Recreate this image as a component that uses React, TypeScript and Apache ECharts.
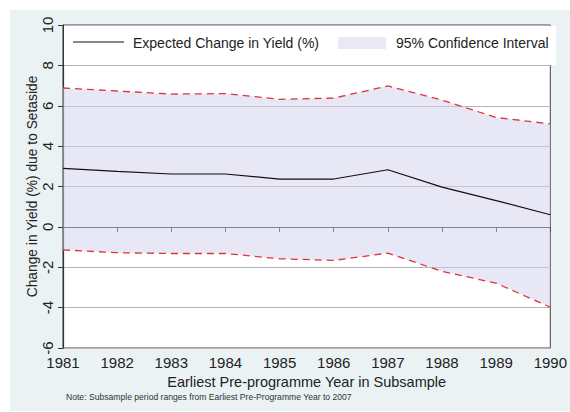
import React, { useEffect, useRef } from "react";
import * as echarts from "echarts";

const years = ["1981", "1982", "1983", "1984", "1985", "1986", "1987", "1988", "1989", "1990"];
const expected = [2.9, 2.75, 2.62, 2.62, 2.37, 2.37, 2.83, 1.97, 1.3, 0.6];
const upper = [6.88, 6.73, 6.58, 6.6, 6.32, 6.38, 6.98, 6.28, 5.42, 5.1];
const lower = [-1.14, -1.28, -1.32, -1.32, -1.58, -1.66, -1.3, -2.2, -2.79, -3.98];
const yTicks = { min: -6, max: 10, interval: 2 };

const FONT = "'Liberation Sans', Arial, Helvetica, sans-serif";

export default function App() {
  const ref = useRef<HTMLDivElement>(null);
  useEffect(() => {
    if (!ref.current) return;
    const chart = echarts.init(ref.current, null, { renderer: "svg" });
    chart.setOption({
      animation: false,
      backgroundColor: "#ffffff",
      textStyle: { fontFamily: FONT },
      graphic: [
        {
          type: "rect",
          z: -10,
          silent: true,
          shape: { x: 10, y: 10, width: 560, height: 401 },
          style: { fill: "#eaf2f4" },
        },
        {
          type: "rect",
          z: 5,
          silent: true,
          shape: { x: 64, y: 26, width: 492, height: 39 },
          style: { fill: "#ffffff" },
        },
        {
          type: "line",
          z: 6,
          shape: { x1: 73, y1: 42, x2: 124, y2: 42 },
          style: { stroke: "#111", lineWidth: 1.2 },
        },
        {
          type: "text",
          z: 6,
          x: 133,
          y: 43,
          style: { text: "Expected Change in Yield (%)", fontSize: 14, fontFamily: FONT, fill: "#222", verticalAlign: "middle" },
        },
        {
          type: "rect",
          z: 6,
          shape: { x: 338, y: 37, width: 48, height: 12 },
          style: { fill: "#e9e9f4" },
        },
        {
          type: "text",
          z: 6,
          x: 396,
          y: 43,
          style: { text: "95% Confidence Interval", fontSize: 14, fontFamily: FONT, fill: "#222", verticalAlign: "middle" },
        },
        {
          type: "text",
          x: 66,
          y: 397,
          style: { text: "Note: Subsample period ranges from Earliest Pre-Programme Year to 2007", fontSize: 8.6, fontFamily: FONT, fill: "#333", verticalAlign: "middle" },
        },
      ],
      grid: {
        left: 63,
        top: 25,
        right: 13,
        bottom: 64,
        show: true,
        backgroundColor: "#ffffff",
        borderColor: "#444",
        borderWidth: 1,
        containLabel: false,
      },
      xAxis: {
        type: "category",
        data: years,
        boundaryGap: false,
        name: "Earliest Pre-programme Year in Subsample",
        nameLocation: "middle",
        nameGap: 26,
        nameMoveOverlap: false,
        nameTextStyle: { fontSize: 14.5, color: "#222", fontFamily: FONT },
        axisLine: { lineStyle: { color: "#333", width: 1.2 } },
        axisTick: { show: true, length: 5, inside: false, alignWithLabel: true, lineStyle: { color: "#333" } },
        axisLabel: { fontSize: 15, color: "#222", margin: 7, fontFamily: FONT, showMaxLabel: true, showMinLabel: true, interval: 0 },
        splitLine: { show: false },
      },
      yAxis: {
        type: "value",
        min: yTicks.min,
        max: yTicks.max,
        interval: yTicks.interval,
        name: "Change in Yield (%) due to Setaside",
        nameLocation: "middle",
        nameGap: 24,
        nameMoveOverlap: false,
        nameRotate: 90,
        nameTextStyle: { fontSize: 13.8, color: "#222", fontFamily: FONT },
        axisLine: { show: true, lineStyle: { color: "#333", width: 1.2 } },
        axisTick: { show: true, length: 5, lineStyle: { color: "#333" } },
        axisLabel: { rotate: 90, fontSize: 15, color: "#222", margin: 8, fontFamily: FONT },
        splitLine: { show: true, lineStyle: { color: "#b4b4b4", width: 1 } },
      },
      series: [
        {
          name: "95% Confidence Interval",
          type: "custom",
          data: [0],
          silent: true,
          z: 1,
          renderItem: (params: any, api: any) => {
            const pts: number[][] = [];
            for (let i = 0; i < years.length; i++) pts.push(api.coord([i, upper[i]]));
            for (let i = years.length - 1; i >= 0; i--) pts.push(api.coord([i, lower[i]]));
            return {
              type: "polygon",
              shape: { points: pts },
              style: { fill: "rgba(208,208,236,0.5)" },
            };
          },
        },
        {
          name: "Upper",
          type: "line",
          data: upper,
          symbol: "none",
          lineStyle: { color: "#e0333c", width: 1.3, type: [7, 5] },
          z: 3,
        },
        {
          name: "Lower",
          type: "line",
          data: lower,
          symbol: "none",
          lineStyle: { color: "#e0333c", width: 1.3, type: [7, 5] },
          z: 3,
        },
        {
          name: "Expected Change in Yield (%)",
          type: "line",
          data: expected,
          symbol: "none",
          lineStyle: { color: "#111111", width: 1.2 },
          z: 4,
        },
      ],
    });
    return () => chart.dispose();
  }, []);
  return (
    <div
      ref={ref}
      style={{ position: "fixed", left: 0, top: 0, width: 570, height: 412 }}
    />
  );
}
